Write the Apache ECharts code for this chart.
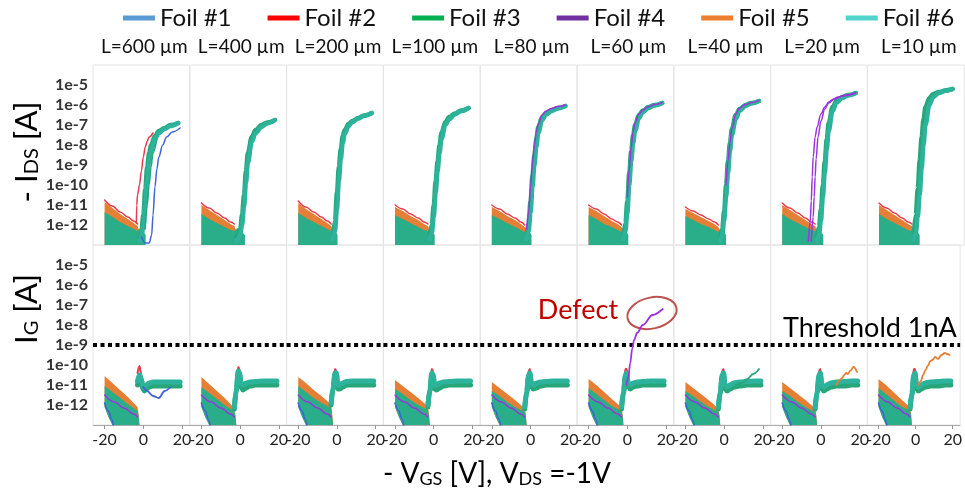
<!DOCTYPE html>
<html><head><meta charset="utf-8">
<script src="https://cdn.jsdelivr.net/npm/echarts@6/dist/echarts.min.js"></script>
<style>html,body{margin:0;padding:0;background:#fff}#c{width:965px;height:493px}</style>
</head><body><div id="c"></div>
<script>
// ---------------- DATA (currents stored as log10 exponents, A) ----------------
const PANELS = ['L=600 µm','L=400 µm','L=200 µm','L=100 µm','L=80 µm','L=60 µm','L=40 µm','L=20 µm','L=10 µm'];
const FOILS = ['Foil #1','Foil #2','Foil #3','Foil #4','Foil #5','Foil #6'];
const Y_TICKS = [-12,-11,-10,-9,-8,-7,-6,-5];
const X_TICKS = [-20, 0, 20];
const THRESHOLD = -9; // 1 nA

// top row: -I_DS, off region
const VG_OFF = [-20, -16, -12, -8, -5, -3];
const IDS_F2_OFF = [
  [-10.75,-11.05,-11.35,-11.6,-11.8,-11.95],
  [-10.9,-11.15,-11.4,-11.65,-11.85,-11.95],
  [-10.8,-11.1,-11.35,-11.6,-11.8,-11.95],
  [-11.0,-11.2,-11.45,-11.65,-11.85,-11.95],
  [-11.0,-11.2,-11.45,-11.65,-11.85,-12.0],
  [-11.0,-11.2,-11.45,-11.7,-11.85,-12.0],
  [-11.1,-11.3,-11.5,-11.7,-11.85,-12.0],
  [-10.9,-11.15,-11.4,-11.65,-11.85,-11.95],
  [-10.9,-11.15,-11.4,-11.65,-11.85,-11.95]];
const IDS_F5_OFF = [
  [-10.85,-11.15,-11.45,-11.7,-11.9,-12.05],
  [-11.0,-11.25,-11.5,-11.75,-11.95,-12.05],
  [-10.9,-11.2,-11.45,-11.7,-11.9,-12.05],
  [-11.1,-11.3,-11.55,-11.75,-11.95,-12.05],
  [-11.1,-11.3,-11.55,-11.75,-11.95,-12.1],
  [-11.1,-11.3,-11.55,-11.8,-11.95,-12.1],
  [-11.2,-11.4,-11.6,-11.8,-11.95,-12.1],
  [-11.0,-11.25,-11.5,-11.75,-11.95,-12.05],
  [-11.0,-11.25,-11.5,-11.75,-11.95,-12.05]];
const IDS_F3_FLOOR = [
  [-11.35,-11.6,-11.85,-12.05,-12.2,-12.3],
  [-11.45,-11.7,-11.9,-12.1,-12.25,-12.3],
  [-11.4,-11.65,-11.85,-12.05,-12.2,-12.3],
  [-11.5,-11.7,-11.9,-12.1,-12.25,-12.3],
  [-11.5,-11.7,-11.9,-12.1,-12.25,-12.35],
  [-11.5,-11.7,-11.95,-12.1,-12.25,-12.35],
  [-11.55,-11.75,-11.95,-12.1,-12.25,-12.35],
  [-11.45,-11.7,-11.9,-12.1,-12.25,-12.3],
  [-11.45,-11.7,-11.9,-12.1,-12.25,-12.3]];
const IDS_FLOOR_END = [1.2, 2.5, 0.3, 0.5, 0.5, 0.5, 1.0, 1.2, 1.0];

// top row: on branch
const VG_ON = [-2, -1, 0, 1, 2, 3, 4, 6, 8, 11, 14, 18];
const IDS_F3_ON = [
  [-12.6,-12.3,-11.5,-10.2,-9.1,-8.4,-8.0,-7.55,-7.3,-7.15,-7.0,-6.9],
  [-12.6,-12.5,-12.2,-11.5,-10.5,-9.3,-8.4,-7.6,-7.25,-7.0,-6.87,-6.75],
  [-12.5,-11.8,-10.4,-9.1,-8.2,-7.55,-7.25,-6.95,-6.8,-6.65,-6.52,-6.4],
  [-12.5,-12.0,-11.0,-9.8,-8.8,-8.0,-7.4,-6.85,-6.6,-6.42,-6.28,-6.15],
  [-12.5,-11.9,-10.8,-9.5,-8.5,-7.7,-7.1,-6.6,-6.4,-6.25,-6.15,-6.05],
  [-12.5,-11.9,-10.8,-9.4,-8.3,-7.5,-7.0,-6.5,-6.28,-6.1,-6.0,-5.9],
  [-12.6,-12.2,-11.3,-10.0,-8.8,-7.9,-7.2,-6.5,-6.2,-6.0,-5.9,-5.8],
  [-12.6,-12.1,-11.2,-10.0,-8.8,-7.7,-6.9,-6.1,-5.8,-5.6,-5.5,-5.4],
  [-12.4,-11.5,-10.2,-8.8,-7.6,-6.7,-6.1,-5.65,-5.45,-5.35,-5.28,-5.2]];
const IDS_F6_ON = [
  [-12.8,-12.6,-12.1,-11.0,-9.8,-8.9,-8.3,-7.7,-7.4,-7.2,-7.05,-6.9],
  [-12.8,-12.7,-12.5,-12.0,-11.1,-9.9,-8.9,-7.85,-7.4,-7.1,-6.92,-6.75],
  [-12.7,-12.3,-11.2,-9.8,-8.7,-7.9,-7.45,-7.05,-6.85,-6.68,-6.54,-6.4],
  [-12.7,-12.4,-11.6,-10.4,-9.3,-8.4,-7.7,-7.0,-6.7,-6.47,-6.31,-6.15],
  [-12.7,-12.3,-11.4,-10.1,-9.0,-8.1,-7.4,-6.75,-6.48,-6.3,-6.17,-6.05],
  [-12.7,-12.3,-11.4,-10.0,-8.8,-7.9,-7.3,-6.65,-6.36,-6.15,-6.02,-5.9],
  [-12.8,-12.5,-11.8,-10.6,-9.4,-8.3,-7.5,-6.7,-6.3,-6.05,-5.92,-5.8],
  [-12.8,-12.5,-11.8,-10.6,-9.4,-8.2,-7.3,-6.3,-5.9,-5.65,-5.52,-5.4],
  [-12.7,-12.4,-11.6,-10.5,-9.2,-8.0,-7.0,-6.0,-5.6,-5.4,-5.3,-5.2]];
// top row: individual deviating curves
const IDS_EXTRA = [
  {panel:0, foil:0, x:[-1,1,3,4.3,5,6,7,8,10,12,15,19], y:[-12.6,-12.9,-12.9,-12.5,-11.5,-10.1,-9.2,-8.6,-8.0,-7.6,-7.35,-7.15]},
  {panel:0, foil:1, x:[-3.6,-3.4,-3,-2,-1,0,1,2,3,5], y:[-11.9,-11.0,-10.5,-10.0,-9.3,-8.6,-8.1,-7.8,-7.6,-7.4]},
  {panel:0, foil:2, x:[1,2,3,4,5,7], y:[-12.2,-11.0,-10.0,-9.1,-8.4,-7.7]},
  {panel:4, foil:3, x:[-2,-1,0,1,2,3,4,6,8,11,14,18], y:[-12.2,-11.4,-10.1,-8.9,-8.0,-7.35,-6.95,-6.5,-6.3,-6.17,-6.08,-6.0]},
  {panel:5, foil:3, x:[0,1,2,3,4,6,8,11,14,18], y:[-10.6,-9.2,-8.1,-7.35,-6.9,-6.45,-6.25,-6.08,-5.98,-5.88]},
  {panel:6, foil:3, x:[1,2,3,4,6,8,11,14,18], y:[-10.0,-8.8,-7.9,-7.2,-6.45,-6.15,-5.98,-5.88,-5.78]},
  {panel:7, foil:3, x:[-6.5,-5.5,-5,-4.5,-4,-3,-2,0,2,4,6,9,13,18], y:[-12.8,-11.8,-10.8,-9.6,-8.6,-7.6,-7.1,-6.45,-6.1,-5.85,-5.72,-5.6,-5.5,-5.4]},
  {panel:7, foil:3, x:[-5,-4,-3.5,-3,-2.5,-1.5,0,2,4,7,11,18], y:[-12.8,-11.6,-10.6,-9.6,-8.7,-7.6,-6.8,-6.2,-5.9,-5.7,-5.55,-5.4]}
];

// bottom row: I_G
const IG_F5_OFF = [
  [-10.55,-10.9,-11.25,-11.6,-11.9,-12.1],
  [-10.6,-10.95,-11.3,-11.65,-11.95,-12.15],
  [-10.6,-10.9,-11.25,-11.55,-11.8,-12.0],
  [-10.75,-11.05,-11.35,-11.65,-11.9,-12.1],
  [-10.85,-11.15,-11.45,-11.75,-12.0,-12.2],
  [-10.7,-11.0,-11.35,-11.7,-11.95,-12.15],
  [-10.85,-11.15,-11.45,-11.75,-12.0,-12.2],
  [-10.85,-11.15,-11.45,-11.75,-12.0,-12.2],
  [-10.7,-11.0,-11.35,-11.7,-11.95,-12.15]];
const IG_F3_OFF = [
  [-11.05,-11.35,-11.65,-11.95,-12.15,-12.3],
  [-11.1,-11.4,-11.7,-12.0,-12.2,-12.35],
  [-11.05,-11.35,-11.65,-11.9,-12.05,-12.15],
  [-11.2,-11.45,-11.75,-12.0,-12.15,-12.25],
  [-11.3,-11.55,-11.85,-12.1,-12.25,-12.35],
  [-11.15,-11.45,-11.75,-12.05,-12.2,-12.35],
  [-11.3,-11.55,-11.85,-12.1,-12.25,-12.35],
  [-11.3,-11.55,-11.85,-12.1,-12.25,-12.35],
  [-11.15,-11.45,-11.75,-12.05,-12.2,-12.35]];
const IG_FILL_LOW_X = [-20, -18, -16];
const IG_FILL_LOW_Y = [-12.1, -12.6, -13.0];
const VG_G_ON = [-3, -2, -1, -0.3, 0.5, 1.5, 3, 5, 8, 12, 16, 19];
const IG_F3_ON = [
  [-11.0,-10.6,-10.9,-11.2,-11.3,-11.2,-11.1,-11.05,-11.05,-11.05,-11.05,-11.05],
  [-12.2,-11.3,-10.4,-10.5,-11.1,-11.25,-11.15,-11.05,-11.0,-11.0,-11.0,-11.0],
  [-12.0,-11.2,-10.5,-10.5,-11.2,-11.2,-11.1,-11.0,-11.0,-11.0,-11.0,-11.0],
  [-12.1,-11.3,-10.5,-10.6,-11.2,-11.25,-11.15,-11.05,-11.0,-11.0,-11.0,-11.0],
  [-12.2,-11.4,-10.6,-10.5,-11.1,-11.2,-11.15,-11.05,-11.0,-11.0,-11.0,-11.0],
  [-12.2,-11.4,-10.6,-10.5,-11.1,-11.2,-11.1,-11.05,-11.0,-11.0,-11.0,-11.0],
  [-12.2,-11.4,-10.6,-10.5,-11.2,-11.3,-11.2,-11.1,-11.05,-11.0,-11.0,-11.0],
  [-12.2,-11.4,-10.6,-10.5,-11.2,-11.3,-11.2,-11.1,-11.05,-11.05,-11.0,-11.0],
  [-12.2,-11.5,-10.6,-10.5,-11.2,-11.3,-11.2,-11.1,-11.05,-11.05,-11.0,-11.0]];
const IG_F6_ON = [
  [-10.8,-10.5,-10.7,-11.0,-11.1,-11.0,-10.9,-10.85,-10.85,-10.85,-10.85,-10.85],
  [-12.1,-11.2,-10.3,-10.4,-10.9,-11.0,-10.9,-10.85,-10.82,-10.8,-10.8,-10.8],
  [-11.9,-11.1,-10.4,-10.4,-11.0,-11.0,-10.9,-10.82,-10.8,-10.8,-10.8,-10.8],
  [-12.0,-11.2,-10.4,-10.5,-11.0,-11.0,-10.9,-10.85,-10.82,-10.8,-10.8,-10.8],
  [-12.1,-11.3,-10.5,-10.4,-10.9,-11.0,-10.9,-10.85,-10.82,-10.8,-10.8,-10.8],
  [-12.1,-11.3,-10.5,-10.4,-10.9,-11.0,-10.9,-10.85,-10.82,-10.8,-10.8,-10.8],
  [-12.1,-11.3,-10.5,-10.4,-11.0,-11.1,-11.0,-10.9,-10.85,-10.82,-10.8,-10.8],
  [-12.1,-11.3,-10.5,-10.4,-11.0,-11.1,-11.0,-10.9,-10.85,-10.82,-10.8,-10.8],
  [-12.1,-11.4,-10.5,-10.4,-11.0,-11.1,-11.0,-10.9,-10.85,-10.82,-10.8,-10.8]];
const VG_SPIKE = [-3, -2, -1, -0.3, 0.5, 1.5];
const IG_F2_SPIKE = [
  [-10.4,-10.05,-10.5,-11.0,-11.2,-11.2],
  [-12.1,-11.0,-10.1,-10.2,-10.9,-11.1],
  [-12.0,-11.0,-10.2,-10.3,-11.0,-11.1],
  [-12.0,-11.0,-10.2,-10.3,-11.0,-11.1],
  [-12.1,-11.1,-10.3,-10.2,-10.9,-11.1],
  [-12.1,-11.1,-10.2,-10.2,-10.9,-11.1],
  [-12.1,-11.1,-10.3,-10.2,-11.0,-11.1],
  [-12.1,-11.1,-10.3,-10.2,-11.0,-11.1],
  [-12.1,-11.2,-10.2,-10.2,-11.0,-11.1]];
const IG_F1_X = [-20, -18, -16.5, -15.5];
const IG_F1_Y = [-11.9, -12.3, -12.7, -13.0];
const IG_F4_X = [-20, -15, -10, -5, -3];
const IG_F4_Y = [-11.5, -11.85, -12.15, -12.45, -12.6];
const IG_EXTRA = [
  {panel:0, foil:0, x:[0,2,5,8,11,14], y:[-11.1,-11.3,-11.55,-11.65,-11.3,-11.1]},
  {panel:5, foil:3, x:[-0.5,0.5,1.5,2.5,3.5,5,8,13,18.3], y:[-11.0,-10.6,-9.9,-9.2,-8.75,-8.4,-8.0,-7.5,-7.2]},
  {panel:6, foil:2, x:[6,9,12,15,18], y:[-11.0,-10.9,-10.7,-10.45,-10.2]},
  {panel:7, foil:4, x:[8,9.7,11,12,13.1,14,15,16.9,18.6], y:[-11.0,-10.75,-10.65,-10.5,-10.4,-10.45,-10.3,-10.1,-10.35]},
  {panel:8, foil:4, x:[1.5,2.9,4,5.4,6.5,8,9,10.6,12,14,15.7,17,18.3], y:[-11.0,-10.8,-10.5,-10.25,-10.05,-9.8,-9.75,-9.6,-9.7,-9.5,-9.4,-9.45,-9.5]}
];

// ---------------- STYLE ----------------
const PLOT_COLORS = ['#3F63D8','#E53B4B','#27A679','#9A35DD','#E57F35','#2DB39B'];
const LEGEND_COLORS = ['#5B9BD5','#FF0000','#00B050','#7030A0','#ED7D31','#4FD3CB'];
const FILL_COLOR = '#2AAE8A';
const FONT = 'Lato';

const chart = echarts.init(document.getElementById('c'), null, {renderer:'canvas'});
const GL = 93, PW = 96.8, ROWS = [65, 245], RH = 180;
const grids = [], xAxes = [], yAxes = [], series = [];
const pairs = (xs, ys) => xs.map((x, i) => [x, ys[i]]);

function ln(name, gi, data, color, width, z, extra) {
  series.push(Object.assign({type:'line', name, xAxisIndex:gi, yAxisIndex:gi, data, symbol:'none',
    smooth:0.35, smoothMonotone:'x', lineStyle:{color, width, cap:'round', join:'round'},
    itemStyle:{color}, z:z||3, silent:true, animation:false, clip:true}, extra||{}));
}
function band(name, gi, pts, color, z) {
  series.push({type:'custom', name, xAxisIndex:gi, yAxisIndex:gi, coordinateSystem:'cartesian2d',
    data:[pts[0]], clip:true, z:z||2, silent:true, animation:false, itemStyle:{color},
    renderItem:(params, api) => ({type:'polygon', shape:{points: pts.map(p => api.coord(p))}, style:{fill:color}})});
}

for (let r = 0; r < 2; r++) for (let k = 0; k < 9; k++) {
  const gi = r * 9 + k;
  grids.push({left: GL + k * PW, top: ROWS[r], width: PW, height: RH, show: true,
    borderColor: '#e4e4e4', borderWidth: 1});
  xAxes.push({gridIndex: gi, type: 'value', min: -26, max: 24, position: r === 0 ? 'top' : 'bottom',
    name: r === 0 ? PANELS[k] : '', nameLocation: 'middle', nameGap: 9,
    nameTextStyle: {fontFamily: FONT, fontSize: 19, color: '#111', padding: [0, 0, 0, 6]},
    axisLine: {show: r === 1, lineStyle: {color: '#aaaaaa'}},
    axisTick: {show: r === 1, customValues: X_TICKS, length: 4, lineStyle: {color: '#999'}},
    axisLabel: {show: r === 1, customValues: X_TICKS, fontFamily: FONT, fontSize: 16, color: '#222', margin: 7},
    splitLine: {show: false}});
  yAxes.push({gridIndex: gi, type: 'value', min: -13, max: -4, interval: 1,
    axisLine: {show: false}, axisTick: {show: false}, splitLine: {show: false},
    axisLabel: {show: k === 0, formatter: v => Y_TICKS.includes(v) ? '1e' + v : '',
      fontFamily: FONT, fontWeight: 'bold', fontSize: 16, color: '#333', margin: 5}});
}

// top row
for (let k = 0; k < 9; k++) {
  const gi = k, fe = IDS_FLOOR_END[k];
  band('Foil #5', gi, pairs(VG_OFF, IDS_F5_OFF[k]).concat([[-2, -12.3], [-1.5, -13], [-20, -13]]), PLOT_COLORS[4], 2);
  band('Foil #3', gi, pairs(VG_OFF, IDS_F3_FLOOR[k]).concat([[-1.5, -12.15], [fe, -12.5], [fe, -13], [-20, -13]]), FILL_COLOR, 2);
  ln('Foil #2', gi, pairs(VG_OFF, IDS_F2_OFF[k]), PLOT_COLORS[1], 1.5, 3);
  ln('Foil #3', gi, pairs(VG_ON, IDS_F3_ON[k]), PLOT_COLORS[2], 4.5, 4);
  ln('Foil #6', gi, pairs(VG_ON, IDS_F6_ON[k]), PLOT_COLORS[5], 4.5, 4);
}
IDS_EXTRA.forEach(e => ln(FOILS[e.foil], e.panel, pairs(e.x, e.y), PLOT_COLORS[e.foil], 1.5, e.foil === 1 ? 3.5 : 5));

// bottom row
for (let k = 0; k < 9; k++) {
  const gi = 9 + k;
  const low = pairs(IG_FILL_LOW_X, IG_FILL_LOW_Y).concat([[-2, -13]]).reverse();
  band('Foil #5', gi, pairs(VG_OFF, IG_F5_OFF[k]).concat([[-2.5, -12.4]], low), PLOT_COLORS[4], 2);
  band('Foil #3', gi, pairs(VG_OFF, IG_F3_OFF[k]).concat([[-2.5, -12.5]], low), FILL_COLOR, 2);
  ln('Foil #1', gi, pairs(IG_F1_X, IG_F1_Y), PLOT_COLORS[0], 1.6, 3);
  ln('Foil #4', gi, pairs(IG_F4_X, IG_F4_Y), PLOT_COLORS[3], 1.4, 3);
  ln('Foil #2', gi, pairs(VG_SPIKE, IG_F2_SPIKE[k]), PLOT_COLORS[1], 2, 3);
  ln('Foil #3', gi, pairs(VG_G_ON, IG_F3_ON[k]), PLOT_COLORS[2], 5, 4, {
    markLine: {silent: true, symbol: ['none', 'none'], label: {show: false}, animation: false,
      lineStyle: {color: '#000', width: 4, type: [4, 3.5]}, data: [{yAxis: THRESHOLD}]}});
  ln('Foil #6', gi, pairs(VG_G_ON, IG_F6_ON[k]), PLOT_COLORS[5], 5, 4);
}
IG_EXTRA.forEach(e => ln(FOILS[e.foil], 9 + e.panel, pairs(e.x, e.y), PLOT_COLORS[e.foil], 1.8, 5));

const sub = {fontFamily: FONT, fontSize: 20, lineHeight: 22, verticalAlign: 'bottom', color: '#111'};
const main = {fontFamily: FONT, fontSize: 31, lineHeight: 38, verticalAlign: 'bottom', color: '#111'};
const subX = {fontFamily: FONT, fontSize: 18, lineHeight: 20, verticalAlign: 'bottom', color: '#111'};
const mainX = {fontFamily: FONT, fontSize: 28, lineHeight: 34, verticalAlign: 'bottom', color: '#111'};

chart.setOption({
  animation: false,
  backgroundColor: '#fff',
  grid: grids, xAxis: xAxes, yAxis: yAxes, series,
  legend: {top: 1, left: 118, itemWidth: 32, itemHeight: 5, itemGap: 36, icon: 'rect', selectedMode: false,
    textStyle: {fontFamily: FONT, fontSize: 24, color: '#111'},
    data: FOILS.map((n, i) => ({name: n, itemStyle: {color: LEGEND_COLORS[i]}}))},
  graphic: [
    {type: 'text', x: 23, y: 152, rotation: Math.PI / 2, silent: true,
      style: {text: '{m|- I}{s|DS}{m| [A]}', rich: {m: main, s: sub}, align: 'center', verticalAlign: 'middle'}},
    {type: 'text', x: 23, y: 309, rotation: Math.PI / 2, silent: true,
      style: {text: '{m|I}{s|G}{m| [A]}', rich: {m: main, s: sub}, align: 'center', verticalAlign: 'middle'}},
    {type: 'text', x: 497, y: 471, silent: true,
      style: {text: '{m|- V}{s|GS}{m| [V], V}{s|DS}{m| =-1V}', rich: {m: mainX, s: subX}, align: 'center', verticalAlign: 'middle'}},
    {type: 'text', x: 578, y: 310, silent: true,
      style: {text: 'Defect', fontFamily: FONT, fontSize: 27, fill: '#C00000', align: 'center', verticalAlign: 'middle'}},
    {type: 'text', x: 783, y: 328, silent: true,
      style: {text: 'Threshold 1nA', fontFamily: FONT, fontSize: 27, fill: '#000', align: 'left', verticalAlign: 'middle'}},
    {type: 'ellipse', x: 652, y: 313, rotation: 0.22, silent: true,
      shape: {cx: 0, cy: 0, rx: 25, ry: 15.5}, style: {fill: 'none', stroke: '#C0504D', lineWidth: 2}}
  ]
});
</script></body></html>
